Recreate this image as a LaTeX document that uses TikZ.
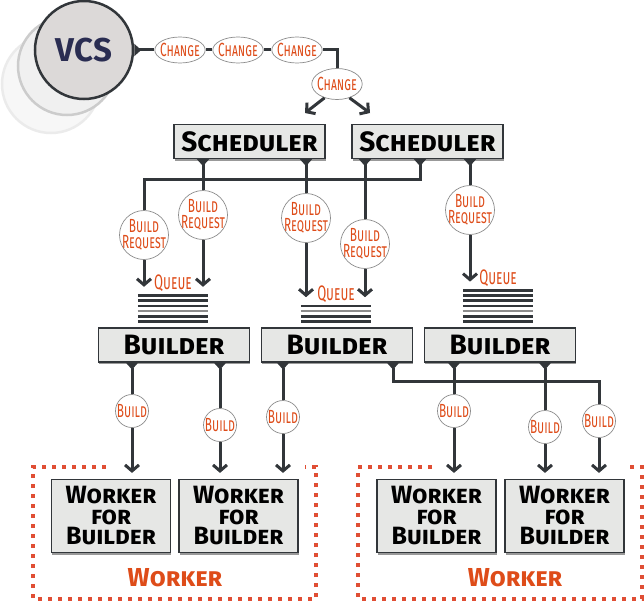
\documentclass[tikz,border=0pt]{standalone}
\usepackage{fontspec}
\setmainfont{Fira Sans}
\newfontfamily\condfont[FakeStretch=0.62]{Fira Sans}
\usepackage{tikz}
\usetikzlibrary{shapes.geometric, arrows.meta, positioning, shadows}
\definecolor{msgorange}{RGB}{222,76,25}
\definecolor{wireblack}{RGB}{50,54,58}
\definecolor{boxgray}{RGB}{230,231,229}
\definecolor{vcsgray}{RGB}{220,217,216}
\definecolor{vcsnavy}{RGB}{42,45,82}
\definecolor{grouporange}{RGB}{224,78,52}

\begin{document}
\begin{tikzpicture}[
    x=1pt, y=-1pt,
    comp/.style={rectangle, draw=wireblack, line width=1.2pt, fill=boxgray,
                 minimum width=151pt, minimum height=34pt, inner sep=0pt,
                 drop shadow={shadow xshift=0.6pt, shadow yshift=-2pt, fill=black!50, opacity=0.8},
                 font=\fontsize{28}{28}\selectfont\bfseries\scshape},
    workerbox/.style={comp, minimum width=119pt, minimum height=73pt, align=center,
                 font=\fontsize{25}{20.5}\selectfont\bfseries\scshape},
    msg/.style={draw=black!45, line width=0.7pt, fill=white, inner sep=0pt, align=center,
                text=msgorange, font=\condfont\fontsize{19}{16.5}\selectfont\scshape},
    change/.style={msg, ellipse, inner xsep=-2pt, inner ysep=1pt, minimum width=47pt, minimum height=26pt},
    request/.style={msg, circle, inner sep=-3pt, minimum size=49pt},
    build/.style={msg, circle, minimum size=33pt},
    queue/.style={rectangle, inner sep=0pt, minimum width=70pt},
    qlabel/.style={inner sep=0pt, text=msgorange, font=\condfont\fontsize{21}{21}\selectfont\scshape},
    ghost/.style={circle, minimum size=98pt, line width=2.5pt},
    wire/.style={draw=wireblack, line width=3pt},
    tail/.style={wire, arrows={Triangle[reversed, length=7pt, width=12pt]-}},
    arrow/.style={wire, -{Straight Barb[length=6pt, width=14pt]}},
    stackline/.style={draw=wireblack, line width=2.6pt},
    group/.style={draw=grouporange, line width=3.5pt, dash pattern=on 4pt off 6pt}
]
    \useasboundingbox (0,0) rectangle (644,602);

    % VCS and its ghosts
    \node[ghost, draw=black!8, fill=black!3] (ghostB) at (51,84) {};
    \node[ghost, draw=black!20, fill=black!6] (ghostA) at (67,66) {};
    \node[ghost, draw=wireblack, fill=vcsgray, text=vcsnavy,
          font=\fontsize{33}{33}\selectfont\bfseries] (vcs) at (84,50) {VCS};

    % Changes
    \node[change] (ch1) at (180,50) {Change};
    \node[change] (ch2) at (238,50) {Change};
    \node[change] (ch3) at (297,50) {Change};
    \node[change, minimum width=50pt, minimum height=31pt] (ch4) at (337,84) {Change};
    \draw[tail] (vcs.east) -- (ch1);
    \draw[wire] (ch1) -- (ch2);
    \draw[wire] (ch2) -- (ch3);
    \draw[wire] (ch3) -| (ch4);
    \coordinate (in1) at (305,113);
    \coordinate (in2) at (370,113);
    \draw[arrow] (ch4.228) -- (in1);
    \draw[arrow] (ch4.312) -- (in2);

    % Schedulers
    \node[comp] (sch1) at (249.5,141.5) {Scheduler};
    \node[comp] (sch2) at (427.5,141.5) {Scheduler};

    % Build requests
    \node[request] (br1) at (144,235) {Build\\Request};
    \node[request] (br2) at (203,215) {Build\\Request};
    \node[request] (br3) at (306,218) {Build\\Request};
    \node[request] (br4) at (365,244) {Build\\Request};
    \node[request] (br5) at (470,210) {Build\\Request};

    % Queues
    \node[queue, minimum height=29pt] (q1) at (173,308) {};
    \node[queue, minimum height=18.6pt] (q2) at (336,313.2) {};
    \node[queue, minimum height=34.2pt] (q3) at (498,305.4) {};
    \foreach \q/\n in {q1/5, q2/3, q3/6} {
        \foreach \i in {0,...,\n}
            \draw[stackline] ([yshift=\i*5.2pt+1.3pt]\q.south west) -- ([yshift=\i*5.2pt+1.3pt]\q.south east);
        \draw[stackline, draw=black!45] ([yshift=11.7pt]\q.south west) -- ([yshift=11.7pt]\q.south east);
    }
    \node[qlabel, above=1pt of q1] (q1lab) {Queue};
    \node[qlabel, above=1pt of q2] (q2lab) {Queue};
    \node[qlabel, above=1pt of q3] (q3lab) {Queue};

    % Scheduler -> request -> queue
    \draw[tail] (sch1.south -| br2) -- (br2);
    \draw[tail] (sch1.south -| br3) -- (br3);
    \draw[tail] (sch2.south -| br4) -- (br4);
    \draw[tail] ([xshift=-7.5pt]sch2.south) -- ++(0,20) -| (br1);
    \draw[tail] (sch2.south -| br5) -- (br5);
    \draw[arrow, shorten >=6.5pt] (br1) -- (br1 |- q1.north);
    \draw[arrow, shorten >=6.5pt] (br2) -- (br2 |- q1.north);
    \draw[arrow, shorten >=6.5pt] (br3) -- (br3 |- q2.north);
    \draw[arrow, shorten >=6.5pt] (br4) -- (br4 |- q2.north);
    \draw[arrow, shorten >=6.5pt] (br5) -- (br5 |- q3.north);

    % Builders
    \node[comp] (bld1) at (174,345) {Builder};
    \node[comp] (bld2) at (337,345) {Builder};
    \node[comp] (bld3) at (500,345) {Builder};

    % Builds
    \node[build] (bd1) at (132,411) {Build};
    \node[build] (bd2) at (220,425) {Build};
    \node[build] (bd3) at (283,417) {Build};
    \node[build] (bd4) at (454,411) {Build};
    \node[build] (bd5) at (545,427) {Build};
    \node[build] (bd6) at (599,421) {Build};

    % Workers for builders
    \node[workerbox] (wk1) at (111,516) {Worker\\for\\Builder};
    \node[workerbox] (wk2) at (238.5,516) {Worker\\for\\Builder};
    \node[workerbox] (wk3) at (436.5,516) {Worker\\for\\Builder};
    \node[workerbox] (wk4) at (564.5,516) {Worker\\for\\Builder};

    % Builder -> build -> worker
    \draw[tail] (bld1.south -| bd1) -- (bd1);
    \draw[tail] (bld1.south -| bd2) -- (bd2);
    \draw[tail] (bld2.south -| bd3) -- (bd3);
    \draw[tail] ([xshift=56pt]bld2.south) -- ++(0,19) -| (bd6);
    \draw[tail] (bld3.south -| bd4) -- (bd4);
    \draw[tail] (bld3.south -| bd5) -- (bd5);
    \draw[arrow, shorten >=6pt] (bd1) -- (bd1 |- wk1.north);
    \draw[arrow, shorten >=6pt] (bd2) -- (bd2 |- wk2.north);
    \draw[arrow, shorten >=6pt] (bd3) -- (bd3 |- wk2.north);
    \draw[arrow, shorten >=6pt] (bd4) -- (bd4 |- wk3.north);
    \draw[arrow, shorten >=6pt] (bd5) -- (bd5 |- wk4.north);
    \draw[arrow, shorten >=6pt] (bd6) -- (bd6 |- wk4.north);

    % Worker groups
    \draw[group] (106,467) -- (33,467) -- (33,599) -- (316,599) -- (316,467) -- (305,467);
    \draw[group] (432,467) -- (358,467) -- (358,599) -- (642,599) -- (642,467) -- (627,467);
    \node[text=msgorange, font=\fontsize{26}{26}\selectfont\bfseries\scshape] (grp1) at (175,578) {Worker};
    \node[text=msgorange, font=\fontsize{26}{26}\selectfont\bfseries\scshape] (grp2) at (515,578) {Worker};
\end{tikzpicture}
\end{document}
